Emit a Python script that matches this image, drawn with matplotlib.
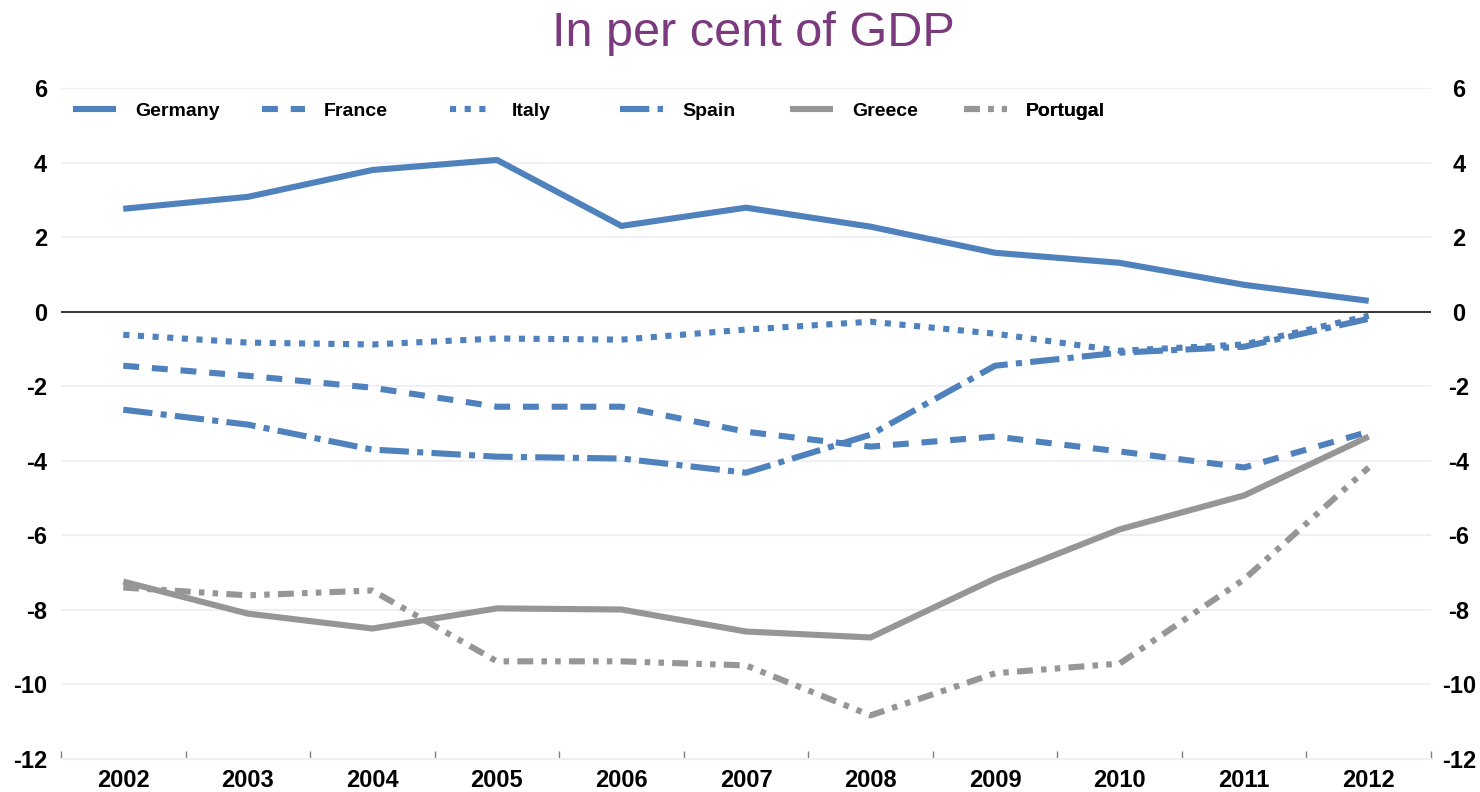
import matplotlib
matplotlib.use("Agg")
import matplotlib.pyplot as plt
import matplotlib.transforms as mtransforms
import numpy as np

years = ["2002", "2003", "2004", "2005", "2006", "2007", "2008", "2009", "2010", "2011", "2012"]
germany = [2.76, 3.08, 3.80, 4.07, 2.30, 2.79, 2.28, 1.58, 1.31, 0.72, 0.29]
france = [-1.45, -1.72, -2.04, -2.55, -2.55, -3.22, -3.62, -3.35, -3.75, -4.18, -3.22]
italy = [-0.62, -0.83, -0.88, -0.72, -0.75, -0.48, -0.27, -0.59, -1.05, -0.88, -0.11]
spain = [-2.63, -3.03, -3.70, -3.89, -3.94, -4.32, -3.30, -1.45, -1.10, -0.94, -0.19]
greece = [-7.24, -8.10, -8.50, -7.96, -7.99, -8.58, -8.74, -7.16, -5.84, -4.93, -3.35]
portugal = [-7.40, -7.61, -7.48, -9.38, -9.38, -9.49, -10.83, -9.70, -9.44, -7.18, -4.18]
yticks = [6, 4, 2, 0, -2, -4, -6, -8, -10, -12]

BLUE = "#4F81BD"
GREY = "#969696"
plt.rcParams["font.family"] = ["Liberation Sans", "DejaVu Sans"]

W, H = 1480, 792
fig = plt.figure(figsize=(W / 100, H / 100), dpi=100)
ax = fig.add_axes([61 / W, 1 - 759 / H, (1431 - 61) / W, (759 - 88) / H])

x = np.arange(len(years))
lw = 4.4
series = [
    ("Germany", germany, BLUE, "-"),
    ("France", france, BLUE, (0, (2.6, 2.1))),
    ("Italy", italy, BLUE, (0, (1, 1.4))),
    ("Spain", spain, BLUE, (0, (4.8, 1.35, 1, 1.35))),
    ("Greece", greece, GREY, "-"),
    ("Portugal", portugal, GREY, (0, (2.6, 1.35, 0.9, 1.35, 0.9, 1.35))),
]
lines = []
for name, vals, col, ls in series:
    ln, = ax.plot(x, vals, color=col, lw=lw, ls=ls, label=name,
                  solid_capstyle="butt", dash_capstyle="butt", zorder=3)
    lines.append(ln)

ax.set_xlim(-0.5, len(years) - 0.5)
ax.set_ylim(-12, 6)
ax.set_yticks(yticks)
ax.set_yticklabels([str(v) for v in yticks])
ax.axhline(0, color="black", lw=1.1, zorder=2)
for v in yticks:
    if v not in (0, -12):
        ax.axhline(v, color="#EEEEF6", lw=1.3, zorder=0)

ax.set_xticks(x)
ax.set_xticklabels(years, fontsize=17, fontweight="bold")
ax.set_xticks(np.arange(-0.5, len(years), 1), minor=True)
ax.tick_params(axis="x", which="major", length=0, pad=7)
ax.tick_params(axis="x", which="minor", length=6, direction="in", color="#7F7F7F", width=1)

ax.tick_params(axis="y", length=0, labelsize=17, labelleft=True, labelright=True, pad=10)
offset = mtransforms.ScaledTranslation(14 / 100, 0, fig.dpi_scale_trans)
for t in ax.yaxis.get_major_ticks():
    t.label1.set_fontweight("bold")
    t.label2.set_fontweight("bold")
    t.label2.set_horizontalalignment("center")
    t.label2.set_transform(t.label2.get_transform() + offset)

for s in ["top", "left", "right"]:
    ax.spines[s].set_visible(False)
ax.spines["bottom"].set_color("#EEEEF6")
ax.spines["bottom"].set_linewidth(1.5)

legend_x = [73, 262, 450, 620, 790, 964]
for ln, lx in zip(lines, legend_x):
    lg = ax.legend([ln], [ln.get_label()], loc="center left",
                   bbox_to_anchor=(lx / W, 1 - 111 / H), bbox_transform=fig.transFigure,
                   frameon=False, borderpad=0, borderaxespad=0,
                   handlelength=2.2, handletextpad=1.0,
                   prop={"size": 14, "weight": "bold"})
    ax.add_artist(lg)

fig.text(753 / W, 1 - 33 / H, "In per cent of GDP", ha="center", va="center",
         fontsize=35, color="#7B3A7E")

fig.savefig("out.png", dpi=100)
